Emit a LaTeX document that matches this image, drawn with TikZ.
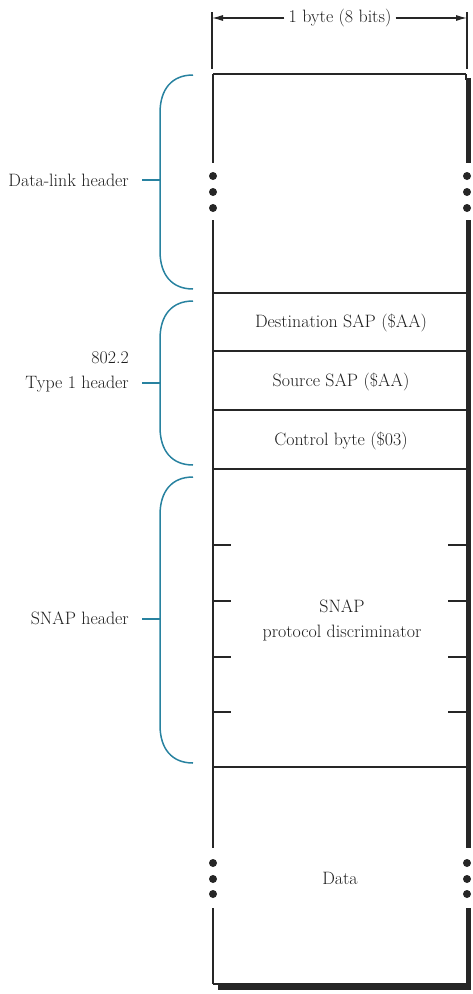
\documentclass[tikz,border=0pt]{standalone}
\usepackage{fontspec}
\setmainfont{Latin Modern Roman}
\usetikzlibrary{arrows.meta}
\definecolor{bracecol}{RGB}{40,130,160}
\definecolor{txt}{RGB}{30,30,30}
\tikzset{
  lbl/.style={font=\fontsize{17.9}{25}\selectfont, text=txt, inner sep=0pt},
  thinline/.style={line width=1.3pt, black!85},
  divider/.style={line width=1.8pt, black!85},
  shadowline/.style={line width=5pt, black!85},
  bracepath/.style={line width=1.5pt, bracecol},
  dimline/.style={line width=1.1pt, black!85},
  dimarrow/.style={line width=1.1pt, black!85, -{Latex[length=11pt,width=6pt]}},
  dotmark/.style={circle, fill=black!85, inner sep=0pt, minimum size=8pt},
  tick/.style={line width=1.1pt, black!85}
}
\newcommand{\mybrace}[4]{%
  % #1 top y, #2 bottom y, #3 mid y, #4 name
  \coordinate (#4t) at (193,#1);
  \coordinate (#4b) at (193,#2);
  \coordinate (#4m) at (160,#3);
  \coordinate (#4d) at (142,#3);
  \draw[bracepath] (#4t) .. controls (172,#1) and (160,#1+14) .. (160,#1+38)
     -- (160,#2-38) .. controls (160,#2-14) and (172,#2) .. (#4b);
  \draw[bracepath] (#4d) -- (#4m);
}
\begin{document}
\begin{tikzpicture}[x=1pt,y=-1pt]
\useasboundingbox (0,0) rectangle (472,994);
% dimension
\coordinate (dl) at (212,18);
\coordinate (dr) at (467,18);
\draw[dimline] (212,12) -- (212,69);
\draw[dimline] (467,12) -- (467,69);
\node[lbl, inner xsep=4pt] (dim) at (340,18) {1 byte (8 bits)};
\draw[dimarrow] (dim.west) -- (dl);
\draw[dimarrow] (dim.east) -- (dr);
% box frame
\coordinate (tl) at (213,74);
\coordinate (tr) at (466,74);
\coordinate (bl) at (213,984);
\coordinate (br) at (466,984);
\draw[thinline] (tl) -- (tr);
\draw[thinline] (bl) -- (br);
% left edge with gaps
\draw[thinline] (tl) -- (213,163);
\draw[thinline] (213,220) -- (213,848);
\draw[thinline] (213,908) -- (bl);
% right edge (with shadow) with gaps
\draw[thinline] (tr) -- (466,80);
\draw[shadowline] (468,78) -- (468,163);
\draw[shadowline] (468,220) -- (468,848);
\draw[shadowline] (468,908) -- (468,990);
\draw[shadowline] (218,987.5) -- (470.5,987.5);
% dots
\foreach \yy in {176,192,208} {
  \node[dotmark] at (213,\yy) {};
  \node[dotmark] at (467,\yy) {};
}
\foreach \yy in {863,879,894} {
  \node[dotmark] at (213,\yy) {};
  \node[dotmark] at (467,\yy) {};
}
% dividers
\foreach \yy in {293,351,410,469,767} {
  \draw[divider] (213,\yy) -- (466,\yy);
}
% ticks
\foreach \yy in {545,601,657,712} {
  \draw[tick] (213,\yy) -- (231,\yy);
  \draw[tick] (448,\yy) -- (466,\yy);
}
% field texts
\node[lbl] (dsap) at (341,323) {Destination SAP (\$AA)};
\node[lbl] (ssap) at (341,382) {Source SAP (\$AA)};
\node[lbl] (ctrl) at (341,441) {Control byte (\$03)};
\node[lbl, align=center] (snap) at (342,620) {SNAP\\protocol discriminator};
\node[lbl] (data) at (340,878) {Data};
% braces
\mybrace{75}{289}{180}{b1}
\mybrace{301}{465}{383}{b2}
\mybrace{477}{763}{619}{b3}
% labels
\node[lbl, anchor=east] (dlh) at (129,180) {Data-link header};
\node[lbl, anchor=east, align=right] (llc) at (129,372) {802.2\\Type 1 header};
\node[lbl, anchor=east] (snh) at (129,618) {SNAP header};
\end{tikzpicture}
\end{document}
